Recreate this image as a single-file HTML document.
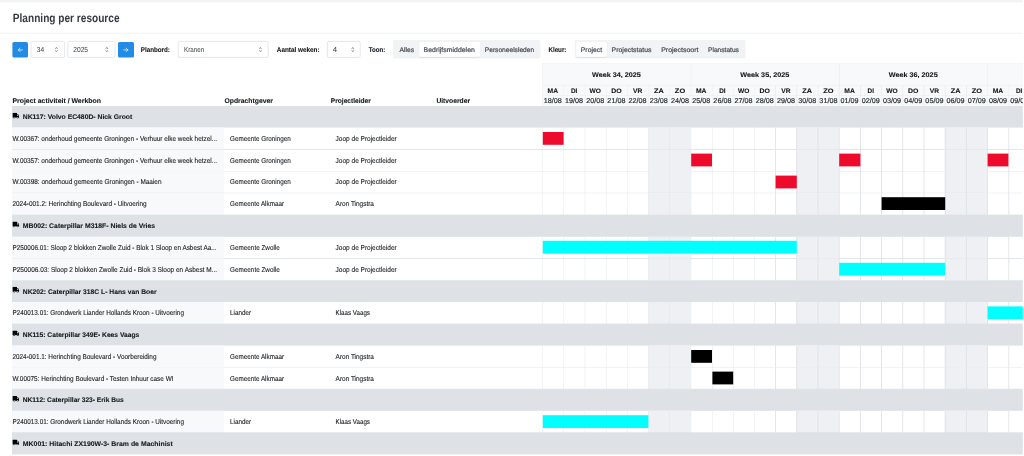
<!DOCTYPE html>
<html lang="nl">
<head>
<meta charset="utf-8">
<title>Planning per resource</title>
<style>
html,body{margin:0;padding:0;background:#fff;overflow:hidden;text-rendering:geometricPrecision;}
body{width:1024px;height:456px;position:relative;font-family:"Liberation Sans",sans-serif;}
#page{position:absolute;left:0;top:0;width:2557.0px;height:1140.0px;transform:scale(0.4);transform-origin:0 0;overflow:hidden;}
#page div{position:absolute;}
#page svg{display:block;}
.t{position:absolute;margin:0;padding:0;white-space:nowrap;display:block;}
.pill{box-shadow:0 1px 2.5px rgba(0,0,0,.07);}
</style>
</head>
<body>
<div id="page">
<div style="left:0.00px;top:0.00px;width:2560.00px;height:5.50px;background:#f2f4f6;"></div>
<h1 id="t1" class="t" style="left:32.00px;top:27.11px;font-size:30.00px;line-height:36.00px;font-weight:700;color:#343a40;transform:scaleX(0.8423);transform-origin:left;">Planning per resource</h1>
<div style="left:0.00px;top:82.25px;width:2560.00px;height:1.25px;background:#eceef1;"></div>
<div class="btn" style="left:30.75px;top:104.75px;width:39.50px;height:39.50px;background:#228be6;border-radius:4.00px;"><svg viewBox="0 0 16 16" width="100%" height="100%"><path d="M10.2 8H6M7.8 6.2 6 8l1.8 1.8" fill="none" stroke="#fff" stroke-width="0.7" stroke-linecap="round" stroke-linejoin="round"/></svg></div>
<div class="inp" style="left:77.00px;top:103.00px;width:84.50px;height:41.25px;background:#fff;border:1.38px solid #c0c7cf;border-radius:4.00px;box-sizing:border-box;"></div>
<span id="t2" class="t" style="left:91.75px;top:112.85px;font-size:18.25px;line-height:21.90px;font-weight:400;color:#3b4147;transform:scaleX(0.9000);transform-origin:left;">34</span>
<div style="left:133.25px;top:113.50px;width:16.00px;height:20.00px;"><svg viewBox="0 0 8 10" width="100%" height="100%"><path d="M2.9 3.8 4 2.2 5.1 3.8M2.9 6.2 4 7.8 5.1 6.2" fill="none" stroke="#5f666d" stroke-width="0.8" stroke-linecap="round" stroke-linejoin="round"/></svg></div>
<div class="inp" style="left:168.50px;top:103.00px;width:119.75px;height:41.25px;background:#fff;border:1.38px solid #c0c7cf;border-radius:4.00px;box-sizing:border-box;"></div>
<span id="t3" class="t" style="left:182.50px;top:112.85px;font-size:18.25px;line-height:21.90px;font-weight:400;color:#3b4147;transform:scaleX(0.9146);transform-origin:left;">2025</span>
<div style="left:259.00px;top:113.50px;width:16.00px;height:20.00px;"><svg viewBox="0 0 8 10" width="100%" height="100%"><path d="M2.9 3.8 4 2.2 5.1 3.8M2.9 6.2 4 7.8 5.1 6.2" fill="none" stroke="#5f666d" stroke-width="0.8" stroke-linecap="round" stroke-linejoin="round"/></svg></div>
<div class="btn" style="left:295.00px;top:104.75px;width:39.50px;height:39.50px;background:#228be6;border-radius:4.00px;"><svg viewBox="0 0 16 16" width="100%" height="100%"><path d="M5.8 8H10M8.2 6.2 10 8 8.2 9.8" fill="none" stroke="#fff" stroke-width="0.7" stroke-linecap="round" stroke-linejoin="round"/></svg></div>
<label id="t4" class="t" style="left:352.00px;top:115.17px;font-size:17.25px;line-height:20.70px;font-weight:700;color:#15181b;transform:scaleX(0.9043);transform-origin:left;-webkit-text-stroke:0.25px #15181b;">Planbord:</label>
<div class="inp" style="left:445.25px;top:103.00px;width:225.25px;height:41.25px;background:#fff;border:1.38px solid #c0c7cf;border-radius:4.00px;box-sizing:border-box;"></div>
<span id="t5" class="t" style="left:459.75px;top:112.85px;font-size:18.25px;line-height:21.90px;font-weight:400;color:#3b4147;transform:scaleX(0.8559);transform-origin:left;">Kranen</span>
<div style="left:643.00px;top:113.50px;width:16.00px;height:20.00px;"><svg viewBox="0 0 8 10" width="100%" height="100%"><path d="M2.9 3.8 4 2.2 5.1 3.8M2.9 6.2 4 7.8 5.1 6.2" fill="none" stroke="#5f666d" stroke-width="0.8" stroke-linecap="round" stroke-linejoin="round"/></svg></div>
<label id="t6" class="t" style="left:691.50px;top:115.17px;font-size:17.25px;line-height:20.70px;font-weight:700;color:#15181b;transform:scaleX(0.9224);transform-origin:left;-webkit-text-stroke:0.25px #15181b;">Aantal weken:</label>
<div class="inp" style="left:818.12px;top:103.00px;width:83.00px;height:41.25px;background:#fff;border:1.38px solid #c0c7cf;border-radius:4.00px;box-sizing:border-box;"></div>
<span id="t7" class="t" style="left:832.25px;top:112.85px;font-size:18.25px;line-height:21.90px;font-weight:400;color:#3b4147;transform:scaleX(1.0750);transform-origin:left;">4</span>
<div style="left:873.50px;top:113.50px;width:16.00px;height:20.00px;"><svg viewBox="0 0 8 10" width="100%" height="100%"><path d="M2.9 3.8 4 2.2 5.1 3.8M2.9 6.2 4 7.8 5.1 6.2" fill="none" stroke="#5f666d" stroke-width="0.8" stroke-linecap="round" stroke-linejoin="round"/></svg></div>
<label id="t8" class="t" style="left:922.00px;top:115.17px;font-size:17.25px;line-height:20.70px;font-weight:700;color:#15181b;transform:scaleX(0.8830);transform-origin:left;-webkit-text-stroke:0.25px #15181b;">Toon:</label>
<div class="seg" style="left:982.25px;top:100.25px;width:368.75px;height:46.00px;background:#f1f3f5;border-radius:4.00px;"></div>
<span id="t9" class="t" style="left:999.38px;top:115.63px;font-size:16.50px;line-height:19.80px;font-weight:400;color:#495057;transform:scaleX(1.0174);transform-origin:left;-webkit-text-stroke:0.55px #495057;">Alles</span>
<div class="pill" style="left:1047.50px;top:105.00px;width:152.50px;height:37.25px;background:#fff;border-radius:3.50px;"></div>
<span id="t10" class="t" style="left:1059.38px;top:115.63px;font-size:16.50px;line-height:19.80px;font-weight:400;color:#495057;transform:scaleX(1.0502);transform-origin:left;-webkit-text-stroke:0.55px #495057;">Bedrijfsmiddelen</span>
<span id="t11" class="t" style="left:1211.88px;top:115.63px;font-size:16.50px;line-height:19.80px;font-weight:400;color:#495057;transform:scaleX(1.0030);transform-origin:left;-webkit-text-stroke:0.55px #495057;">Personeelsleden</span>
<label id="t12" class="t" style="left:1371.25px;top:115.17px;font-size:17.25px;line-height:20.70px;font-weight:700;color:#15181b;transform:scaleX(0.9050);transform-origin:left;-webkit-text-stroke:0.25px #15181b;">Kleur:</label>
<div class="seg" style="left:1437.25px;top:100.25px;width:426.75px;height:46.00px;background:#f1f3f5;border-radius:4.00px;"></div>
<div class="pill" style="left:1440.25px;top:105.00px;width:76.62px;height:37.25px;background:#fff;border-radius:3.50px;"></div>
<span id="t13" class="t" style="left:1452.25px;top:115.63px;font-size:16.50px;line-height:19.80px;font-weight:400;color:#495057;transform:scaleX(1.0392);transform-origin:left;-webkit-text-stroke:0.55px #495057;">Project</span>
<span id="t14" class="t" style="left:1529.38px;top:115.63px;font-size:16.50px;line-height:19.80px;font-weight:400;color:#495057;transform:scaleX(1.0461);transform-origin:left;-webkit-text-stroke:0.55px #495057;">Projectstatus</span>
<span id="t15" class="t" style="left:1653.00px;top:115.63px;font-size:16.50px;line-height:19.80px;font-weight:400;color:#495057;transform:scaleX(1.0568);transform-origin:left;-webkit-text-stroke:0.55px #495057;">Projectsoort</span>
<span id="t16" class="t" style="left:1770.25px;top:115.63px;font-size:16.50px;line-height:19.80px;font-weight:400;color:#495057;transform:scaleX(1.0032);transform-origin:left;-webkit-text-stroke:0.55px #495057;">Planstatus</span>
<div style="left:1355.75px;top:158.75px;width:1204.25px;height:106.25px;background:#f8f9fa;"></div>
<div style="left:1355.75px;top:158.75px;width:1.25px;height:53.75px;background:#e9ecef;"></div>
<span id="t17" class="t" style="left:1541.16px;top:177.15px;font-size:16.75px;line-height:20.10px;font-weight:700;color:#15181b;transform:translateX(-50%) scaleX(1.0796);transform-origin:center;-webkit-text-stroke:0.25px #15181b;">Week 34, 2025</span>
<div style="left:1726.58px;top:158.75px;width:1.25px;height:53.75px;background:#e9ecef;"></div>
<span id="t18" class="t" style="left:1911.99px;top:177.15px;font-size:16.75px;line-height:20.10px;font-weight:700;color:#15181b;transform:translateX(-50%) scaleX(1.0796);transform-origin:center;-webkit-text-stroke:0.25px #15181b;">Week 35, 2025</span>
<div style="left:2097.40px;top:158.75px;width:1.25px;height:53.75px;background:#e9ecef;"></div>
<span id="t19" class="t" style="left:2282.81px;top:177.15px;font-size:16.75px;line-height:20.10px;font-weight:700;color:#15181b;transform:translateX(-50%) scaleX(1.0796);transform-origin:center;-webkit-text-stroke:0.25px #15181b;">Week 36, 2025</span>
<div style="left:2468.22px;top:158.75px;width:1.25px;height:53.75px;background:#e9ecef;"></div>
<span id="t20" class="t" style="left:2653.64px;top:177.15px;font-size:16.75px;line-height:20.10px;font-weight:700;color:#15181b;transform:translateX(-50%) scaleX(1.0796);transform-origin:center;-webkit-text-stroke:0.25px #15181b;">Week 37, 2025</span>
<div style="left:1355.75px;top:158.75px;width:1204.25px;height:1.25px;background:#e9ecef;"></div>
<div style="left:1355.75px;top:212.50px;width:1204.25px;height:1.25px;background:#e9ecef;"></div>
<div style="left:1355.75px;top:238.12px;width:1204.25px;height:1.25px;background:#e9ecef;"></div>
<div style="left:1355.75px;top:212.50px;width:1.25px;height:52.50px;background:#e9ecef;"></div>
<span id="t21" class="t" style="left:1382.24px;top:217.61px;font-size:16.00px;line-height:19.20px;font-weight:700;color:#15181b;transform:translateX(-50%) scaleX(1.0600);transform-origin:center;-webkit-text-stroke:0.25px #15181b;">MA</span>
<span id="t22" class="t" style="left:1382.24px;top:241.95px;font-size:17.75px;line-height:21.30px;font-weight:400;color:#212529;transform:translateX(-50%) scaleX(1.0170);transform-origin:center;-webkit-text-stroke:0.35px #212529;">18/08</span>
<div style="left:1408.72px;top:212.50px;width:1.25px;height:52.50px;background:#e9ecef;"></div>
<span id="t23" class="t" style="left:1435.21px;top:217.61px;font-size:16.00px;line-height:19.20px;font-weight:700;color:#15181b;transform:translateX(-50%) scaleX(1.0000);transform-origin:center;-webkit-text-stroke:0.25px #15181b;">DI</span>
<span id="t24" class="t" style="left:1435.21px;top:241.95px;font-size:17.75px;line-height:21.30px;font-weight:400;color:#212529;transform:translateX(-50%) scaleX(1.0170);transform-origin:center;-webkit-text-stroke:0.35px #212529;">19/08</span>
<div style="left:1461.70px;top:212.50px;width:1.25px;height:52.50px;background:#e9ecef;"></div>
<span id="t25" class="t" style="left:1488.19px;top:217.61px;font-size:16.00px;line-height:19.20px;font-weight:700;color:#15181b;transform:translateX(-50%) scaleX(1.0357);transform-origin:center;-webkit-text-stroke:0.25px #15181b;">WO</span>
<span id="t26" class="t" style="left:1488.19px;top:241.95px;font-size:17.75px;line-height:21.30px;font-weight:400;color:#212529;transform:translateX(-50%) scaleX(1.0170);transform-origin:center;-webkit-text-stroke:0.35px #212529;">20/08</span>
<div style="left:1514.67px;top:212.50px;width:1.25px;height:52.50px;background:#e9ecef;"></div>
<span id="t27" class="t" style="left:1541.16px;top:217.61px;font-size:16.00px;line-height:19.20px;font-weight:700;color:#15181b;transform:translateX(-50%) scaleX(1.0833);transform-origin:center;-webkit-text-stroke:0.25px #15181b;">DO</span>
<span id="t28" class="t" style="left:1541.16px;top:241.95px;font-size:17.75px;line-height:21.30px;font-weight:400;color:#212529;transform:translateX(-50%) scaleX(1.0170);transform-origin:center;-webkit-text-stroke:0.35px #212529;">21/08</span>
<div style="left:1567.65px;top:212.50px;width:1.25px;height:52.50px;background:#e9ecef;"></div>
<span id="t29" class="t" style="left:1594.14px;top:217.61px;font-size:16.00px;line-height:19.20px;font-weight:700;color:#15181b;transform:translateX(-50%) scaleX(1.0455);transform-origin:center;-webkit-text-stroke:0.25px #15181b;">VR</span>
<span id="t30" class="t" style="left:1594.14px;top:241.95px;font-size:17.75px;line-height:21.30px;font-weight:400;color:#212529;transform:translateX(-50%) scaleX(1.0170);transform-origin:center;-webkit-text-stroke:0.35px #212529;">22/08</span>
<div style="left:1620.62px;top:212.50px;width:1.25px;height:52.50px;background:#e9ecef;"></div>
<span id="t31" class="t" style="left:1647.11px;top:217.61px;font-size:16.00px;line-height:19.20px;font-weight:700;color:#15181b;transform:translateX(-50%) scaleX(1.1429);transform-origin:center;-webkit-text-stroke:0.25px #15181b;">ZA</span>
<span id="t32" class="t" style="left:1647.11px;top:241.95px;font-size:17.75px;line-height:21.30px;font-weight:400;color:#212529;transform:translateX(-50%) scaleX(1.0170);transform-origin:center;-webkit-text-stroke:0.35px #212529;">23/08</span>
<div style="left:1673.60px;top:212.50px;width:1.25px;height:52.50px;background:#e9ecef;"></div>
<span id="t33" class="t" style="left:1700.09px;top:217.61px;font-size:16.00px;line-height:19.20px;font-weight:700;color:#15181b;transform:translateX(-50%) scaleX(1.1591);transform-origin:center;-webkit-text-stroke:0.25px #15181b;">ZO</span>
<span id="t34" class="t" style="left:1700.09px;top:241.95px;font-size:17.75px;line-height:21.30px;font-weight:400;color:#212529;transform:translateX(-50%) scaleX(1.0170);transform-origin:center;-webkit-text-stroke:0.35px #212529;">24/08</span>
<div style="left:1726.58px;top:212.50px;width:1.25px;height:52.50px;background:#e9ecef;"></div>
<span id="t35" class="t" style="left:1753.06px;top:217.61px;font-size:16.00px;line-height:19.20px;font-weight:700;color:#15181b;transform:translateX(-50%) scaleX(1.0600);transform-origin:center;-webkit-text-stroke:0.25px #15181b;">MA</span>
<span id="t36" class="t" style="left:1753.06px;top:241.95px;font-size:17.75px;line-height:21.30px;font-weight:400;color:#212529;transform:translateX(-50%) scaleX(1.0170);transform-origin:center;-webkit-text-stroke:0.35px #212529;">25/08</span>
<div style="left:1779.55px;top:212.50px;width:1.25px;height:52.50px;background:#e9ecef;"></div>
<span id="t37" class="t" style="left:1806.04px;top:217.61px;font-size:16.00px;line-height:19.20px;font-weight:700;color:#15181b;transform:translateX(-50%) scaleX(1.0000);transform-origin:center;-webkit-text-stroke:0.25px #15181b;">DI</span>
<span id="t38" class="t" style="left:1806.04px;top:241.95px;font-size:17.75px;line-height:21.30px;font-weight:400;color:#212529;transform:translateX(-50%) scaleX(1.0170);transform-origin:center;-webkit-text-stroke:0.35px #212529;">26/08</span>
<div style="left:1832.53px;top:212.50px;width:1.25px;height:52.50px;background:#e9ecef;"></div>
<span id="t39" class="t" style="left:1859.01px;top:217.61px;font-size:16.00px;line-height:19.20px;font-weight:700;color:#15181b;transform:translateX(-50%) scaleX(1.0357);transform-origin:center;-webkit-text-stroke:0.25px #15181b;">WO</span>
<span id="t40" class="t" style="left:1859.01px;top:241.95px;font-size:17.75px;line-height:21.30px;font-weight:400;color:#212529;transform:translateX(-50%) scaleX(1.0170);transform-origin:center;-webkit-text-stroke:0.35px #212529;">27/08</span>
<div style="left:1885.50px;top:212.50px;width:1.25px;height:52.50px;background:#e9ecef;"></div>
<span id="t41" class="t" style="left:1911.99px;top:217.61px;font-size:16.00px;line-height:19.20px;font-weight:700;color:#15181b;transform:translateX(-50%) scaleX(1.0833);transform-origin:center;-webkit-text-stroke:0.25px #15181b;">DO</span>
<span id="t42" class="t" style="left:1911.99px;top:241.95px;font-size:17.75px;line-height:21.30px;font-weight:400;color:#212529;transform:translateX(-50%) scaleX(1.0170);transform-origin:center;-webkit-text-stroke:0.35px #212529;">28/08</span>
<div style="left:1938.47px;top:212.50px;width:1.25px;height:52.50px;background:#e9ecef;"></div>
<span id="t43" class="t" style="left:1964.96px;top:217.61px;font-size:16.00px;line-height:19.20px;font-weight:700;color:#15181b;transform:translateX(-50%) scaleX(1.0455);transform-origin:center;-webkit-text-stroke:0.25px #15181b;">VR</span>
<span id="t44" class="t" style="left:1964.96px;top:241.95px;font-size:17.75px;line-height:21.30px;font-weight:400;color:#212529;transform:translateX(-50%) scaleX(1.0170);transform-origin:center;-webkit-text-stroke:0.35px #212529;">29/08</span>
<div style="left:1991.45px;top:212.50px;width:1.25px;height:52.50px;background:#e9ecef;"></div>
<span id="t45" class="t" style="left:2017.94px;top:217.61px;font-size:16.00px;line-height:19.20px;font-weight:700;color:#15181b;transform:translateX(-50%) scaleX(1.1429);transform-origin:center;-webkit-text-stroke:0.25px #15181b;">ZA</span>
<span id="t46" class="t" style="left:2017.94px;top:241.95px;font-size:17.75px;line-height:21.30px;font-weight:400;color:#212529;transform:translateX(-50%) scaleX(1.0170);transform-origin:center;-webkit-text-stroke:0.35px #212529;">30/08</span>
<div style="left:2044.42px;top:212.50px;width:1.25px;height:52.50px;background:#e9ecef;"></div>
<span id="t47" class="t" style="left:2070.91px;top:217.61px;font-size:16.00px;line-height:19.20px;font-weight:700;color:#15181b;transform:translateX(-50%) scaleX(1.1591);transform-origin:center;-webkit-text-stroke:0.25px #15181b;">ZO</span>
<span id="t48" class="t" style="left:2070.91px;top:241.95px;font-size:17.75px;line-height:21.30px;font-weight:400;color:#212529;transform:translateX(-50%) scaleX(1.0170);transform-origin:center;-webkit-text-stroke:0.35px #212529;">31/08</span>
<div style="left:2097.40px;top:212.50px;width:1.25px;height:52.50px;background:#e9ecef;"></div>
<span id="t49" class="t" style="left:2123.89px;top:217.61px;font-size:16.00px;line-height:19.20px;font-weight:700;color:#15181b;transform:translateX(-50%) scaleX(1.0600);transform-origin:center;-webkit-text-stroke:0.25px #15181b;">MA</span>
<span id="t50" class="t" style="left:2123.89px;top:241.95px;font-size:17.75px;line-height:21.30px;font-weight:400;color:#212529;transform:translateX(-50%) scaleX(1.0170);transform-origin:center;-webkit-text-stroke:0.35px #212529;">01/09</span>
<div style="left:2150.38px;top:212.50px;width:1.25px;height:52.50px;background:#e9ecef;"></div>
<span id="t51" class="t" style="left:2176.86px;top:217.61px;font-size:16.00px;line-height:19.20px;font-weight:700;color:#15181b;transform:translateX(-50%) scaleX(1.0000);transform-origin:center;-webkit-text-stroke:0.25px #15181b;">DI</span>
<span id="t52" class="t" style="left:2176.86px;top:241.95px;font-size:17.75px;line-height:21.30px;font-weight:400;color:#212529;transform:translateX(-50%) scaleX(1.0170);transform-origin:center;-webkit-text-stroke:0.35px #212529;">02/09</span>
<div style="left:2203.35px;top:212.50px;width:1.25px;height:52.50px;background:#e9ecef;"></div>
<span id="t53" class="t" style="left:2229.84px;top:217.61px;font-size:16.00px;line-height:19.20px;font-weight:700;color:#15181b;transform:translateX(-50%) scaleX(1.0357);transform-origin:center;-webkit-text-stroke:0.25px #15181b;">WO</span>
<span id="t54" class="t" style="left:2229.84px;top:241.95px;font-size:17.75px;line-height:21.30px;font-weight:400;color:#212529;transform:translateX(-50%) scaleX(1.0170);transform-origin:center;-webkit-text-stroke:0.35px #212529;">03/09</span>
<div style="left:2256.32px;top:212.50px;width:1.25px;height:52.50px;background:#e9ecef;"></div>
<span id="t55" class="t" style="left:2282.81px;top:217.61px;font-size:16.00px;line-height:19.20px;font-weight:700;color:#15181b;transform:translateX(-50%) scaleX(1.0833);transform-origin:center;-webkit-text-stroke:0.25px #15181b;">DO</span>
<span id="t56" class="t" style="left:2282.81px;top:241.95px;font-size:17.75px;line-height:21.30px;font-weight:400;color:#212529;transform:translateX(-50%) scaleX(1.0170);transform-origin:center;-webkit-text-stroke:0.35px #212529;">04/09</span>
<div style="left:2309.30px;top:212.50px;width:1.25px;height:52.50px;background:#e9ecef;"></div>
<span id="t57" class="t" style="left:2335.79px;top:217.61px;font-size:16.00px;line-height:19.20px;font-weight:700;color:#15181b;transform:translateX(-50%) scaleX(1.0455);transform-origin:center;-webkit-text-stroke:0.25px #15181b;">VR</span>
<span id="t58" class="t" style="left:2335.79px;top:241.95px;font-size:17.75px;line-height:21.30px;font-weight:400;color:#212529;transform:translateX(-50%) scaleX(1.0170);transform-origin:center;-webkit-text-stroke:0.35px #212529;">05/09</span>
<div style="left:2362.28px;top:212.50px;width:1.25px;height:52.50px;background:#e9ecef;"></div>
<span id="t59" class="t" style="left:2388.76px;top:217.61px;font-size:16.00px;line-height:19.20px;font-weight:700;color:#15181b;transform:translateX(-50%) scaleX(1.1429);transform-origin:center;-webkit-text-stroke:0.25px #15181b;">ZA</span>
<span id="t60" class="t" style="left:2388.76px;top:241.95px;font-size:17.75px;line-height:21.30px;font-weight:400;color:#212529;transform:translateX(-50%) scaleX(1.0170);transform-origin:center;-webkit-text-stroke:0.35px #212529;">06/09</span>
<div style="left:2415.25px;top:212.50px;width:1.25px;height:52.50px;background:#e9ecef;"></div>
<span id="t61" class="t" style="left:2441.74px;top:217.61px;font-size:16.00px;line-height:19.20px;font-weight:700;color:#15181b;transform:translateX(-50%) scaleX(1.1591);transform-origin:center;-webkit-text-stroke:0.25px #15181b;">ZO</span>
<span id="t62" class="t" style="left:2441.74px;top:241.95px;font-size:17.75px;line-height:21.30px;font-weight:400;color:#212529;transform:translateX(-50%) scaleX(1.0170);transform-origin:center;-webkit-text-stroke:0.35px #212529;">07/09</span>
<div style="left:2468.22px;top:212.50px;width:1.25px;height:52.50px;background:#e9ecef;"></div>
<span id="t63" class="t" style="left:2494.71px;top:217.61px;font-size:16.00px;line-height:19.20px;font-weight:700;color:#15181b;transform:translateX(-50%) scaleX(1.0600);transform-origin:center;-webkit-text-stroke:0.25px #15181b;">MA</span>
<span id="t64" class="t" style="left:2494.71px;top:241.95px;font-size:17.75px;line-height:21.30px;font-weight:400;color:#212529;transform:translateX(-50%) scaleX(1.0170);transform-origin:center;-webkit-text-stroke:0.35px #212529;">08/09</span>
<div style="left:2521.20px;top:212.50px;width:1.25px;height:52.50px;background:#e9ecef;"></div>
<span id="t65" class="t" style="left:2547.69px;top:217.61px;font-size:16.00px;line-height:19.20px;font-weight:700;color:#15181b;transform:translateX(-50%) scaleX(1.0000);transform-origin:center;-webkit-text-stroke:0.25px #15181b;">DI</span>
<span id="t66" class="t" style="left:2547.69px;top:241.95px;font-size:17.75px;line-height:21.30px;font-weight:400;color:#212529;transform:translateX(-50%) scaleX(1.0170);transform-origin:center;-webkit-text-stroke:0.35px #212529;">09/09</span>
<div style="left:2574.18px;top:212.50px;width:1.25px;height:52.50px;background:#e9ecef;"></div>
<span id="t67" class="t" style="left:2600.66px;top:217.61px;font-size:16.00px;line-height:19.20px;font-weight:700;color:#15181b;transform:translateX(-50%) scaleX(1.0357);transform-origin:center;-webkit-text-stroke:0.25px #15181b;">WO</span>
<span id="t68" class="t" style="left:2600.66px;top:241.95px;font-size:17.75px;line-height:21.30px;font-weight:400;color:#212529;transform:translateX(-50%) scaleX(1.0170);transform-origin:center;-webkit-text-stroke:0.35px #212529;">10/09</span>
<span id="t69" class="t" style="left:31.25px;top:242.91px;font-size:17.00px;line-height:20.40px;font-weight:700;color:#15181b;transform:scaleX(1.0149);transform-origin:left;-webkit-text-stroke:0.25px #15181b;">Project activiteit / Werkbon</span>
<span id="t70" class="t" style="left:561.25px;top:242.91px;font-size:17.00px;line-height:20.40px;font-weight:700;color:#15181b;transform:scaleX(1.0000);transform-origin:left;-webkit-text-stroke:0.25px #15181b;">Opdrachtgever</span>
<span id="t71" class="t" style="left:826.50px;top:242.91px;font-size:17.00px;line-height:20.40px;font-weight:700;color:#15181b;transform:scaleX(0.9709);transform-origin:left;-webkit-text-stroke:0.25px #15181b;">Projectleider</span>
<span id="t72" class="t" style="left:1091.25px;top:242.91px;font-size:17.00px;line-height:20.40px;font-weight:700;color:#15181b;transform:scaleX(0.9882);transform-origin:left;-webkit-text-stroke:0.25px #15181b;">Uitvoerder</span>
<div class="grp" style="left:30.00px;top:265.00px;width:2530.00px;height:54.46px;background:#dee2e6;"></div>
<div style="left:30.50px;top:281.75px;width:17.75px;height:14.25px;"><svg viewBox="0 0 640 512" width="100%" height="100%"><path fill="#000" d="M624 352h-16V243.9c0-12.7-5.1-24.9-14.100-33.900L494 110.100c-9-9-21.200-14.100-33.900-14.100H416V48c0-26.500-21.500-48-48-48H48C21.500 0 0 21.500 0 48v320c0 26.500 21.500 48 48 48h16c0 53 43 96 96 96s96-43 96-96h128c0 53 43 96 96 96s96-43 96-96h48c8.800 0 16-7.200 16-16v-32c0-8.800-7.200-16-16-16zM160 464c-26.500 0-48-21.500-48-48s21.500-48 48-48 48 21.500 48 48-21.500 48-48 48zm320 0c-26.500 0-48-21.500-48-48s21.500-48 48-48 48 21.500 48 48-21.500 48-48 48zm80-208H416V144h44.100l99.900 99.900V256z"/></svg></div>
<span id="t73" class="t" style="left:57.25px;top:282.90px;font-size:16.75px;line-height:20.10px;font-weight:700;color:#15181b;transform:scaleX(1.0148);transform-origin:left;-webkit-text-stroke:0.25px #15181b;">NK117: Volvo EC480D- Nick Groot</span>
<div style="left:30.00px;top:319.46px;width:530.00px;height:54.46px;background:#f8f9fa;"></div>
<div style="left:1620.62px;top:319.46px;width:105.95px;height:54.46px;background:#eef0f3;"></div>
<div style="left:1991.45px;top:319.46px;width:105.95px;height:54.46px;background:#eef0f3;"></div>
<div style="left:2362.28px;top:319.46px;width:105.95px;height:54.46px;background:#eef0f3;"></div>
<div style="left:1355.75px;top:319.46px;width:1.38px;height:54.46px;background:#dce0e5;"></div>
<div style="left:1408.72px;top:319.46px;width:1.38px;height:54.46px;background:#dce0e5;"></div>
<div style="left:1461.70px;top:319.46px;width:1.38px;height:54.46px;background:#dce0e5;"></div>
<div style="left:1514.67px;top:319.46px;width:1.38px;height:54.46px;background:#dce0e5;"></div>
<div style="left:1567.65px;top:319.46px;width:1.38px;height:54.46px;background:#dce0e5;"></div>
<div style="left:1620.62px;top:319.46px;width:1.38px;height:54.46px;background:#dce0e5;"></div>
<div style="left:1673.60px;top:319.46px;width:1.38px;height:54.46px;background:#dce0e5;"></div>
<div style="left:1726.58px;top:319.46px;width:1.38px;height:54.46px;background:#dce0e5;"></div>
<div style="left:1779.55px;top:319.46px;width:1.38px;height:54.46px;background:#dce0e5;"></div>
<div style="left:1832.53px;top:319.46px;width:1.38px;height:54.46px;background:#dce0e5;"></div>
<div style="left:1885.50px;top:319.46px;width:1.38px;height:54.46px;background:#dce0e5;"></div>
<div style="left:1938.47px;top:319.46px;width:1.38px;height:54.46px;background:#dce0e5;"></div>
<div style="left:1991.45px;top:319.46px;width:1.38px;height:54.46px;background:#dce0e5;"></div>
<div style="left:2044.42px;top:319.46px;width:1.38px;height:54.46px;background:#dce0e5;"></div>
<div style="left:2097.40px;top:319.46px;width:1.38px;height:54.46px;background:#dce0e5;"></div>
<div style="left:2150.38px;top:319.46px;width:1.38px;height:54.46px;background:#dce0e5;"></div>
<div style="left:2203.35px;top:319.46px;width:1.38px;height:54.46px;background:#dce0e5;"></div>
<div style="left:2256.32px;top:319.46px;width:1.38px;height:54.46px;background:#dce0e5;"></div>
<div style="left:2309.30px;top:319.46px;width:1.38px;height:54.46px;background:#dce0e5;"></div>
<div style="left:2362.28px;top:319.46px;width:1.38px;height:54.46px;background:#dce0e5;"></div>
<div style="left:2415.25px;top:319.46px;width:1.38px;height:54.46px;background:#dce0e5;"></div>
<div style="left:2468.22px;top:319.46px;width:1.38px;height:54.46px;background:#dce0e5;"></div>
<div style="left:2521.20px;top:319.46px;width:1.38px;height:54.46px;background:#dce0e5;"></div>
<div style="left:2574.18px;top:319.46px;width:1.38px;height:54.46px;background:#dce0e5;"></div>
<div style="left:30.00px;top:373.17px;width:2530.00px;height:1.38px;background:#dce0e5;"></div>
<span id="t74" class="t" style="left:31.25px;top:336.54px;font-size:17.75px;line-height:21.30px;font-weight:400;color:#212529;transform:scaleX(0.9049);transform-origin:left;-webkit-text-stroke:0.30px #212529;">W.00367: onderhoud gemeente Groningen - Verhuur elke week hetzel...</span>
<span id="t75" class="t" style="left:574.75px;top:336.54px;font-size:17.75px;line-height:21.30px;font-weight:400;color:#212529;transform:scaleX(0.8889);transform-origin:left;-webkit-text-stroke:0.30px #212529;">Gemeente Groningen</span>
<span id="t76" class="t" style="left:838.75px;top:336.54px;font-size:17.75px;line-height:21.30px;font-weight:400;color:#212529;transform:scaleX(0.9162);transform-origin:left;-webkit-text-stroke:0.30px #212529;">Joop de Projectleider</span>
<div style="left:1356.75px;top:329.96px;width:52.23px;height:32.00px;background:#ee0a2c;"></div>
<div style="left:30.00px;top:373.92px;width:530.00px;height:54.46px;background:#f8f9fa;"></div>
<div style="left:1620.62px;top:373.92px;width:105.95px;height:54.46px;background:#eef0f3;"></div>
<div style="left:1991.45px;top:373.92px;width:105.95px;height:54.46px;background:#eef0f3;"></div>
<div style="left:2362.28px;top:373.92px;width:105.95px;height:54.46px;background:#eef0f3;"></div>
<div style="left:1355.75px;top:373.92px;width:1.38px;height:54.46px;background:#dce0e5;"></div>
<div style="left:1408.72px;top:373.92px;width:1.38px;height:54.46px;background:#dce0e5;"></div>
<div style="left:1461.70px;top:373.92px;width:1.38px;height:54.46px;background:#dce0e5;"></div>
<div style="left:1514.67px;top:373.92px;width:1.38px;height:54.46px;background:#dce0e5;"></div>
<div style="left:1567.65px;top:373.92px;width:1.38px;height:54.46px;background:#dce0e5;"></div>
<div style="left:1620.62px;top:373.92px;width:1.38px;height:54.46px;background:#dce0e5;"></div>
<div style="left:1673.60px;top:373.92px;width:1.38px;height:54.46px;background:#dce0e5;"></div>
<div style="left:1726.58px;top:373.92px;width:1.38px;height:54.46px;background:#dce0e5;"></div>
<div style="left:1779.55px;top:373.92px;width:1.38px;height:54.46px;background:#dce0e5;"></div>
<div style="left:1832.53px;top:373.92px;width:1.38px;height:54.46px;background:#dce0e5;"></div>
<div style="left:1885.50px;top:373.92px;width:1.38px;height:54.46px;background:#dce0e5;"></div>
<div style="left:1938.47px;top:373.92px;width:1.38px;height:54.46px;background:#dce0e5;"></div>
<div style="left:1991.45px;top:373.92px;width:1.38px;height:54.46px;background:#dce0e5;"></div>
<div style="left:2044.42px;top:373.92px;width:1.38px;height:54.46px;background:#dce0e5;"></div>
<div style="left:2097.40px;top:373.92px;width:1.38px;height:54.46px;background:#dce0e5;"></div>
<div style="left:2150.38px;top:373.92px;width:1.38px;height:54.46px;background:#dce0e5;"></div>
<div style="left:2203.35px;top:373.92px;width:1.38px;height:54.46px;background:#dce0e5;"></div>
<div style="left:2256.32px;top:373.92px;width:1.38px;height:54.46px;background:#dce0e5;"></div>
<div style="left:2309.30px;top:373.92px;width:1.38px;height:54.46px;background:#dce0e5;"></div>
<div style="left:2362.28px;top:373.92px;width:1.38px;height:54.46px;background:#dce0e5;"></div>
<div style="left:2415.25px;top:373.92px;width:1.38px;height:54.46px;background:#dce0e5;"></div>
<div style="left:2468.22px;top:373.92px;width:1.38px;height:54.46px;background:#dce0e5;"></div>
<div style="left:2521.20px;top:373.92px;width:1.38px;height:54.46px;background:#dce0e5;"></div>
<div style="left:2574.18px;top:373.92px;width:1.38px;height:54.46px;background:#dce0e5;"></div>
<div style="left:30.00px;top:427.64px;width:2530.00px;height:1.38px;background:#dce0e5;"></div>
<span id="t77" class="t" style="left:31.25px;top:391.00px;font-size:17.75px;line-height:21.30px;font-weight:400;color:#212529;transform:scaleX(0.9049);transform-origin:left;-webkit-text-stroke:0.30px #212529;">W.00357: onderhoud gemeente Groningen - Verhuur elke week hetzel...</span>
<span id="t78" class="t" style="left:574.75px;top:391.00px;font-size:17.75px;line-height:21.30px;font-weight:400;color:#212529;transform:scaleX(0.8889);transform-origin:left;-webkit-text-stroke:0.30px #212529;">Gemeente Groningen</span>
<span id="t79" class="t" style="left:838.75px;top:391.00px;font-size:17.75px;line-height:21.30px;font-weight:400;color:#212529;transform:scaleX(0.9162);transform-origin:left;-webkit-text-stroke:0.30px #212529;">Joop de Projectleider</span>
<div style="left:1727.57px;top:384.42px;width:52.23px;height:32.00px;background:#ee0a2c;"></div>
<div style="left:2098.40px;top:384.42px;width:52.23px;height:32.00px;background:#ee0a2c;"></div>
<div style="left:2469.22px;top:384.42px;width:52.23px;height:32.00px;background:#ee0a2c;"></div>
<div style="left:30.00px;top:428.39px;width:530.00px;height:54.46px;background:#f8f9fa;"></div>
<div style="left:1620.62px;top:428.39px;width:105.95px;height:54.46px;background:#eef0f3;"></div>
<div style="left:1991.45px;top:428.39px;width:105.95px;height:54.46px;background:#eef0f3;"></div>
<div style="left:2362.28px;top:428.39px;width:105.95px;height:54.46px;background:#eef0f3;"></div>
<div style="left:1355.75px;top:428.39px;width:1.38px;height:54.46px;background:#dce0e5;"></div>
<div style="left:1408.72px;top:428.39px;width:1.38px;height:54.46px;background:#dce0e5;"></div>
<div style="left:1461.70px;top:428.39px;width:1.38px;height:54.46px;background:#dce0e5;"></div>
<div style="left:1514.67px;top:428.39px;width:1.38px;height:54.46px;background:#dce0e5;"></div>
<div style="left:1567.65px;top:428.39px;width:1.38px;height:54.46px;background:#dce0e5;"></div>
<div style="left:1620.62px;top:428.39px;width:1.38px;height:54.46px;background:#dce0e5;"></div>
<div style="left:1673.60px;top:428.39px;width:1.38px;height:54.46px;background:#dce0e5;"></div>
<div style="left:1726.58px;top:428.39px;width:1.38px;height:54.46px;background:#dce0e5;"></div>
<div style="left:1779.55px;top:428.39px;width:1.38px;height:54.46px;background:#dce0e5;"></div>
<div style="left:1832.53px;top:428.39px;width:1.38px;height:54.46px;background:#dce0e5;"></div>
<div style="left:1885.50px;top:428.39px;width:1.38px;height:54.46px;background:#dce0e5;"></div>
<div style="left:1938.47px;top:428.39px;width:1.38px;height:54.46px;background:#dce0e5;"></div>
<div style="left:1991.45px;top:428.39px;width:1.38px;height:54.46px;background:#dce0e5;"></div>
<div style="left:2044.42px;top:428.39px;width:1.38px;height:54.46px;background:#dce0e5;"></div>
<div style="left:2097.40px;top:428.39px;width:1.38px;height:54.46px;background:#dce0e5;"></div>
<div style="left:2150.38px;top:428.39px;width:1.38px;height:54.46px;background:#dce0e5;"></div>
<div style="left:2203.35px;top:428.39px;width:1.38px;height:54.46px;background:#dce0e5;"></div>
<div style="left:2256.32px;top:428.39px;width:1.38px;height:54.46px;background:#dce0e5;"></div>
<div style="left:2309.30px;top:428.39px;width:1.38px;height:54.46px;background:#dce0e5;"></div>
<div style="left:2362.28px;top:428.39px;width:1.38px;height:54.46px;background:#dce0e5;"></div>
<div style="left:2415.25px;top:428.39px;width:1.38px;height:54.46px;background:#dce0e5;"></div>
<div style="left:2468.22px;top:428.39px;width:1.38px;height:54.46px;background:#dce0e5;"></div>
<div style="left:2521.20px;top:428.39px;width:1.38px;height:54.46px;background:#dce0e5;"></div>
<div style="left:2574.18px;top:428.39px;width:1.38px;height:54.46px;background:#dce0e5;"></div>
<div style="left:30.00px;top:482.10px;width:2530.00px;height:1.38px;background:#dce0e5;"></div>
<span id="t80" class="t" style="left:31.25px;top:445.46px;font-size:17.75px;line-height:21.30px;font-weight:400;color:#212529;transform:scaleX(0.9082);transform-origin:left;-webkit-text-stroke:0.30px #212529;">W.00398: onderhoud gemeente Groningen - Maaien</span>
<span id="t81" class="t" style="left:574.75px;top:445.46px;font-size:17.75px;line-height:21.30px;font-weight:400;color:#212529;transform:scaleX(0.8889);transform-origin:left;-webkit-text-stroke:0.30px #212529;">Gemeente Groningen</span>
<span id="t82" class="t" style="left:838.75px;top:445.46px;font-size:17.75px;line-height:21.30px;font-weight:400;color:#212529;transform:scaleX(0.9162);transform-origin:left;-webkit-text-stroke:0.30px #212529;">Joop de Projectleider</span>
<div style="left:1939.47px;top:438.89px;width:52.23px;height:32.00px;background:#ee0a2c;"></div>
<div style="left:30.00px;top:482.85px;width:530.00px;height:54.46px;background:#f8f9fa;"></div>
<div style="left:1620.62px;top:482.85px;width:105.95px;height:54.46px;background:#eef0f3;"></div>
<div style="left:1991.45px;top:482.85px;width:105.95px;height:54.46px;background:#eef0f3;"></div>
<div style="left:2362.28px;top:482.85px;width:105.95px;height:54.46px;background:#eef0f3;"></div>
<div style="left:1355.75px;top:482.85px;width:1.38px;height:54.46px;background:#dce0e5;"></div>
<div style="left:1408.72px;top:482.85px;width:1.38px;height:54.46px;background:#dce0e5;"></div>
<div style="left:1461.70px;top:482.85px;width:1.38px;height:54.46px;background:#dce0e5;"></div>
<div style="left:1514.67px;top:482.85px;width:1.38px;height:54.46px;background:#dce0e5;"></div>
<div style="left:1567.65px;top:482.85px;width:1.38px;height:54.46px;background:#dce0e5;"></div>
<div style="left:1620.62px;top:482.85px;width:1.38px;height:54.46px;background:#dce0e5;"></div>
<div style="left:1673.60px;top:482.85px;width:1.38px;height:54.46px;background:#dce0e5;"></div>
<div style="left:1726.58px;top:482.85px;width:1.38px;height:54.46px;background:#dce0e5;"></div>
<div style="left:1779.55px;top:482.85px;width:1.38px;height:54.46px;background:#dce0e5;"></div>
<div style="left:1832.53px;top:482.85px;width:1.38px;height:54.46px;background:#dce0e5;"></div>
<div style="left:1885.50px;top:482.85px;width:1.38px;height:54.46px;background:#dce0e5;"></div>
<div style="left:1938.47px;top:482.85px;width:1.38px;height:54.46px;background:#dce0e5;"></div>
<div style="left:1991.45px;top:482.85px;width:1.38px;height:54.46px;background:#dce0e5;"></div>
<div style="left:2044.42px;top:482.85px;width:1.38px;height:54.46px;background:#dce0e5;"></div>
<div style="left:2097.40px;top:482.85px;width:1.38px;height:54.46px;background:#dce0e5;"></div>
<div style="left:2150.38px;top:482.85px;width:1.38px;height:54.46px;background:#dce0e5;"></div>
<div style="left:2203.35px;top:482.85px;width:1.38px;height:54.46px;background:#dce0e5;"></div>
<div style="left:2256.32px;top:482.85px;width:1.38px;height:54.46px;background:#dce0e5;"></div>
<div style="left:2309.30px;top:482.85px;width:1.38px;height:54.46px;background:#dce0e5;"></div>
<div style="left:2362.28px;top:482.85px;width:1.38px;height:54.46px;background:#dce0e5;"></div>
<div style="left:2415.25px;top:482.85px;width:1.38px;height:54.46px;background:#dce0e5;"></div>
<div style="left:2468.22px;top:482.85px;width:1.38px;height:54.46px;background:#dce0e5;"></div>
<div style="left:2521.20px;top:482.85px;width:1.38px;height:54.46px;background:#dce0e5;"></div>
<div style="left:2574.18px;top:482.85px;width:1.38px;height:54.46px;background:#dce0e5;"></div>
<div style="left:30.00px;top:536.56px;width:2530.00px;height:1.38px;background:#dce0e5;"></div>
<span id="t83" class="t" style="left:31.25px;top:499.92px;font-size:17.75px;line-height:21.30px;font-weight:400;color:#212529;transform:scaleX(0.9074);transform-origin:left;-webkit-text-stroke:0.30px #212529;">2024-001.2: Herinchting Boulevard - Uitvoering</span>
<span id="t84" class="t" style="left:574.75px;top:499.92px;font-size:17.75px;line-height:21.30px;font-weight:400;color:#212529;transform:scaleX(0.8898);transform-origin:left;-webkit-text-stroke:0.30px #212529;">Gemeente Alkmaar</span>
<span id="t85" class="t" style="left:838.75px;top:499.92px;font-size:17.75px;line-height:21.30px;font-weight:400;color:#212529;transform:scaleX(0.9080);transform-origin:left;-webkit-text-stroke:0.30px #212529;">Aron Tingstra</span>
<div style="left:2204.35px;top:493.35px;width:158.18px;height:32.00px;background:#000000;"></div>
<div class="grp" style="left:30.00px;top:537.31px;width:2530.00px;height:54.46px;background:#dee2e6;"></div>
<div style="left:30.50px;top:554.06px;width:17.75px;height:14.25px;"><svg viewBox="0 0 640 512" width="100%" height="100%"><path fill="#000" d="M624 352h-16V243.9c0-12.7-5.1-24.9-14.100-33.900L494 110.100c-9-9-21.200-14.100-33.900-14.100H416V48c0-26.500-21.500-48-48-48H48C21.500 0 0 21.500 0 48v320c0 26.500 21.500 48 48 48h16c0 53 43 96 96 96s96-43 96-96h128c0 53 43 96 96 96s96-43 96-96h48c8.800 0 16-7.200 16-16v-32c0-8.800-7.200-16-16-16zM160 464c-26.500 0-48-21.500-48-48s21.500-48 48-48 48 21.500 48 48-21.500 48-48 48zm320 0c-26.500 0-48-21.500-48-48s21.500-48 48-48 48 21.500 48 48-21.500 48-48 48zm80-208H416V144h44.100l99.900 99.900V256z"/></svg></div>
<span id="t86" class="t" style="left:57.25px;top:555.21px;font-size:16.75px;line-height:20.10px;font-weight:700;color:#15181b;transform:scaleX(1.0240);transform-origin:left;-webkit-text-stroke:0.25px #15181b;">MB002: Caterpillar M318F- Niels de Vries</span>
<div style="left:30.00px;top:591.77px;width:530.00px;height:54.46px;background:#f8f9fa;"></div>
<div style="left:1620.62px;top:591.77px;width:105.95px;height:54.46px;background:#eef0f3;"></div>
<div style="left:1991.45px;top:591.77px;width:105.95px;height:54.46px;background:#eef0f3;"></div>
<div style="left:2362.28px;top:591.77px;width:105.95px;height:54.46px;background:#eef0f3;"></div>
<div style="left:1355.75px;top:591.77px;width:1.38px;height:54.46px;background:#dce0e5;"></div>
<div style="left:1408.72px;top:591.77px;width:1.38px;height:54.46px;background:#dce0e5;"></div>
<div style="left:1461.70px;top:591.77px;width:1.38px;height:54.46px;background:#dce0e5;"></div>
<div style="left:1514.67px;top:591.77px;width:1.38px;height:54.46px;background:#dce0e5;"></div>
<div style="left:1567.65px;top:591.77px;width:1.38px;height:54.46px;background:#dce0e5;"></div>
<div style="left:1620.62px;top:591.77px;width:1.38px;height:54.46px;background:#dce0e5;"></div>
<div style="left:1673.60px;top:591.77px;width:1.38px;height:54.46px;background:#dce0e5;"></div>
<div style="left:1726.58px;top:591.77px;width:1.38px;height:54.46px;background:#dce0e5;"></div>
<div style="left:1779.55px;top:591.77px;width:1.38px;height:54.46px;background:#dce0e5;"></div>
<div style="left:1832.53px;top:591.77px;width:1.38px;height:54.46px;background:#dce0e5;"></div>
<div style="left:1885.50px;top:591.77px;width:1.38px;height:54.46px;background:#dce0e5;"></div>
<div style="left:1938.47px;top:591.77px;width:1.38px;height:54.46px;background:#dce0e5;"></div>
<div style="left:1991.45px;top:591.77px;width:1.38px;height:54.46px;background:#dce0e5;"></div>
<div style="left:2044.42px;top:591.77px;width:1.38px;height:54.46px;background:#dce0e5;"></div>
<div style="left:2097.40px;top:591.77px;width:1.38px;height:54.46px;background:#dce0e5;"></div>
<div style="left:2150.38px;top:591.77px;width:1.38px;height:54.46px;background:#dce0e5;"></div>
<div style="left:2203.35px;top:591.77px;width:1.38px;height:54.46px;background:#dce0e5;"></div>
<div style="left:2256.32px;top:591.77px;width:1.38px;height:54.46px;background:#dce0e5;"></div>
<div style="left:2309.30px;top:591.77px;width:1.38px;height:54.46px;background:#dce0e5;"></div>
<div style="left:2362.28px;top:591.77px;width:1.38px;height:54.46px;background:#dce0e5;"></div>
<div style="left:2415.25px;top:591.77px;width:1.38px;height:54.46px;background:#dce0e5;"></div>
<div style="left:2468.22px;top:591.77px;width:1.38px;height:54.46px;background:#dce0e5;"></div>
<div style="left:2521.20px;top:591.77px;width:1.38px;height:54.46px;background:#dce0e5;"></div>
<div style="left:2574.18px;top:591.77px;width:1.38px;height:54.46px;background:#dce0e5;"></div>
<div style="left:30.00px;top:645.49px;width:2530.00px;height:1.38px;background:#dce0e5;"></div>
<span id="t87" class="t" style="left:31.25px;top:608.85px;font-size:17.75px;line-height:21.30px;font-weight:400;color:#212529;transform:scaleX(0.9011);transform-origin:left;-webkit-text-stroke:0.30px #212529;">P250006.01: Sloop 2 blokken Zwolle Zuid - Blok 1 Sloop en Asbest Aa...</span>
<span id="t88" class="t" style="left:574.75px;top:608.85px;font-size:17.75px;line-height:21.30px;font-weight:400;color:#212529;transform:scaleX(0.8957);transform-origin:left;-webkit-text-stroke:0.30px #212529;">Gemeente Zwolle</span>
<span id="t89" class="t" style="left:838.75px;top:608.85px;font-size:17.75px;line-height:21.30px;font-weight:400;color:#212529;transform:scaleX(0.9162);transform-origin:left;-webkit-text-stroke:0.30px #212529;">Joop de Projectleider</span>
<div style="left:1356.75px;top:602.27px;width:634.95px;height:32.00px;background:#00ffff;"></div>
<div style="left:30.00px;top:646.24px;width:530.00px;height:54.46px;background:#f8f9fa;"></div>
<div style="left:1620.62px;top:646.24px;width:105.95px;height:54.46px;background:#eef0f3;"></div>
<div style="left:1991.45px;top:646.24px;width:105.95px;height:54.46px;background:#eef0f3;"></div>
<div style="left:2362.28px;top:646.24px;width:105.95px;height:54.46px;background:#eef0f3;"></div>
<div style="left:1355.75px;top:646.24px;width:1.38px;height:54.46px;background:#dce0e5;"></div>
<div style="left:1408.72px;top:646.24px;width:1.38px;height:54.46px;background:#dce0e5;"></div>
<div style="left:1461.70px;top:646.24px;width:1.38px;height:54.46px;background:#dce0e5;"></div>
<div style="left:1514.67px;top:646.24px;width:1.38px;height:54.46px;background:#dce0e5;"></div>
<div style="left:1567.65px;top:646.24px;width:1.38px;height:54.46px;background:#dce0e5;"></div>
<div style="left:1620.62px;top:646.24px;width:1.38px;height:54.46px;background:#dce0e5;"></div>
<div style="left:1673.60px;top:646.24px;width:1.38px;height:54.46px;background:#dce0e5;"></div>
<div style="left:1726.58px;top:646.24px;width:1.38px;height:54.46px;background:#dce0e5;"></div>
<div style="left:1779.55px;top:646.24px;width:1.38px;height:54.46px;background:#dce0e5;"></div>
<div style="left:1832.53px;top:646.24px;width:1.38px;height:54.46px;background:#dce0e5;"></div>
<div style="left:1885.50px;top:646.24px;width:1.38px;height:54.46px;background:#dce0e5;"></div>
<div style="left:1938.47px;top:646.24px;width:1.38px;height:54.46px;background:#dce0e5;"></div>
<div style="left:1991.45px;top:646.24px;width:1.38px;height:54.46px;background:#dce0e5;"></div>
<div style="left:2044.42px;top:646.24px;width:1.38px;height:54.46px;background:#dce0e5;"></div>
<div style="left:2097.40px;top:646.24px;width:1.38px;height:54.46px;background:#dce0e5;"></div>
<div style="left:2150.38px;top:646.24px;width:1.38px;height:54.46px;background:#dce0e5;"></div>
<div style="left:2203.35px;top:646.24px;width:1.38px;height:54.46px;background:#dce0e5;"></div>
<div style="left:2256.32px;top:646.24px;width:1.38px;height:54.46px;background:#dce0e5;"></div>
<div style="left:2309.30px;top:646.24px;width:1.38px;height:54.46px;background:#dce0e5;"></div>
<div style="left:2362.28px;top:646.24px;width:1.38px;height:54.46px;background:#dce0e5;"></div>
<div style="left:2415.25px;top:646.24px;width:1.38px;height:54.46px;background:#dce0e5;"></div>
<div style="left:2468.22px;top:646.24px;width:1.38px;height:54.46px;background:#dce0e5;"></div>
<div style="left:2521.20px;top:646.24px;width:1.38px;height:54.46px;background:#dce0e5;"></div>
<div style="left:2574.18px;top:646.24px;width:1.38px;height:54.46px;background:#dce0e5;"></div>
<div style="left:30.00px;top:699.95px;width:2530.00px;height:1.38px;background:#dce0e5;"></div>
<span id="t90" class="t" style="left:31.25px;top:663.31px;font-size:17.75px;line-height:21.30px;font-weight:400;color:#212529;transform:scaleX(0.9129);transform-origin:left;-webkit-text-stroke:0.30px #212529;">P250006.03: Sloop 2 blokken Zwolle Zuid - Blok 3 Sloop en Asbest M...</span>
<span id="t91" class="t" style="left:574.75px;top:663.31px;font-size:17.75px;line-height:21.30px;font-weight:400;color:#212529;transform:scaleX(0.8957);transform-origin:left;-webkit-text-stroke:0.30px #212529;">Gemeente Zwolle</span>
<span id="t92" class="t" style="left:838.75px;top:663.31px;font-size:17.75px;line-height:21.30px;font-weight:400;color:#212529;transform:scaleX(0.9162);transform-origin:left;-webkit-text-stroke:0.30px #212529;">Joop de Projectleider</span>
<div style="left:2098.40px;top:656.74px;width:264.12px;height:32.00px;background:#00ffff;"></div>
<div class="grp" style="left:30.00px;top:700.70px;width:2530.00px;height:54.46px;background:#dee2e6;"></div>
<div style="left:30.50px;top:717.45px;width:17.75px;height:14.25px;"><svg viewBox="0 0 640 512" width="100%" height="100%"><path fill="#000" d="M624 352h-16V243.9c0-12.7-5.1-24.9-14.100-33.900L494 110.100c-9-9-21.200-14.100-33.900-14.100H416V48c0-26.500-21.500-48-48-48H48C21.500 0 0 21.500 0 48v320c0 26.500 21.500 48 48 48h16c0 53 43 96 96 96s96-43 96-96h128c0 53 43 96 96 96s96-43 96-96h48c8.800 0 16-7.200 16-16v-32c0-8.800-7.200-16-16-16zM160 464c-26.500 0-48-21.500-48-48s21.500-48 48-48 48 21.500 48 48-21.500 48-48 48zm320 0c-26.500 0-48-21.500-48-48s21.500-48 48-48 48 21.500 48 48-21.500 48-48 48zm80-208H416V144h44.100l99.900 99.900V256z"/></svg></div>
<span id="t93" class="t" style="left:57.25px;top:718.60px;font-size:16.75px;line-height:20.10px;font-weight:700;color:#15181b;transform:scaleX(1.0060);transform-origin:left;-webkit-text-stroke:0.25px #15181b;">NK202: Caterpillar 318C L- Hans van Boer</span>
<div style="left:30.00px;top:755.16px;width:530.00px;height:54.46px;background:#f8f9fa;"></div>
<div style="left:1620.62px;top:755.16px;width:105.95px;height:54.46px;background:#eef0f3;"></div>
<div style="left:1991.45px;top:755.16px;width:105.95px;height:54.46px;background:#eef0f3;"></div>
<div style="left:2362.28px;top:755.16px;width:105.95px;height:54.46px;background:#eef0f3;"></div>
<div style="left:1355.75px;top:755.16px;width:1.38px;height:54.46px;background:#dce0e5;"></div>
<div style="left:1408.72px;top:755.16px;width:1.38px;height:54.46px;background:#dce0e5;"></div>
<div style="left:1461.70px;top:755.16px;width:1.38px;height:54.46px;background:#dce0e5;"></div>
<div style="left:1514.67px;top:755.16px;width:1.38px;height:54.46px;background:#dce0e5;"></div>
<div style="left:1567.65px;top:755.16px;width:1.38px;height:54.46px;background:#dce0e5;"></div>
<div style="left:1620.62px;top:755.16px;width:1.38px;height:54.46px;background:#dce0e5;"></div>
<div style="left:1673.60px;top:755.16px;width:1.38px;height:54.46px;background:#dce0e5;"></div>
<div style="left:1726.58px;top:755.16px;width:1.38px;height:54.46px;background:#dce0e5;"></div>
<div style="left:1779.55px;top:755.16px;width:1.38px;height:54.46px;background:#dce0e5;"></div>
<div style="left:1832.53px;top:755.16px;width:1.38px;height:54.46px;background:#dce0e5;"></div>
<div style="left:1885.50px;top:755.16px;width:1.38px;height:54.46px;background:#dce0e5;"></div>
<div style="left:1938.47px;top:755.16px;width:1.38px;height:54.46px;background:#dce0e5;"></div>
<div style="left:1991.45px;top:755.16px;width:1.38px;height:54.46px;background:#dce0e5;"></div>
<div style="left:2044.42px;top:755.16px;width:1.38px;height:54.46px;background:#dce0e5;"></div>
<div style="left:2097.40px;top:755.16px;width:1.38px;height:54.46px;background:#dce0e5;"></div>
<div style="left:2150.38px;top:755.16px;width:1.38px;height:54.46px;background:#dce0e5;"></div>
<div style="left:2203.35px;top:755.16px;width:1.38px;height:54.46px;background:#dce0e5;"></div>
<div style="left:2256.32px;top:755.16px;width:1.38px;height:54.46px;background:#dce0e5;"></div>
<div style="left:2309.30px;top:755.16px;width:1.38px;height:54.46px;background:#dce0e5;"></div>
<div style="left:2362.28px;top:755.16px;width:1.38px;height:54.46px;background:#dce0e5;"></div>
<div style="left:2415.25px;top:755.16px;width:1.38px;height:54.46px;background:#dce0e5;"></div>
<div style="left:2468.22px;top:755.16px;width:1.38px;height:54.46px;background:#dce0e5;"></div>
<div style="left:2521.20px;top:755.16px;width:1.38px;height:54.46px;background:#dce0e5;"></div>
<div style="left:2574.18px;top:755.16px;width:1.38px;height:54.46px;background:#dce0e5;"></div>
<div style="left:30.00px;top:808.88px;width:2530.00px;height:1.38px;background:#dce0e5;"></div>
<span id="t94" class="t" style="left:31.25px;top:772.24px;font-size:17.75px;line-height:21.30px;font-weight:400;color:#212529;transform:scaleX(0.8961);transform-origin:left;-webkit-text-stroke:0.30px #212529;">P240013.01: Grondwerk Liander Hollands Kroon - Uitvoering</span>
<span id="t95" class="t" style="left:574.75px;top:772.24px;font-size:17.75px;line-height:21.30px;font-weight:400;color:#212529;transform:scaleX(0.8898);transform-origin:left;-webkit-text-stroke:0.30px #212529;">Liander</span>
<span id="t96" class="t" style="left:838.75px;top:772.24px;font-size:17.75px;line-height:21.30px;font-weight:400;color:#212529;transform:scaleX(0.8724);transform-origin:left;-webkit-text-stroke:0.30px #212529;">Klaas Vaags</span>
<div style="left:2469.22px;top:765.66px;width:158.18px;height:32.00px;background:#00ffff;"></div>
<div class="grp" style="left:30.00px;top:809.62px;width:2530.00px;height:54.46px;background:#dee2e6;"></div>
<div style="left:30.50px;top:826.38px;width:17.75px;height:14.25px;"><svg viewBox="0 0 640 512" width="100%" height="100%"><path fill="#000" d="M624 352h-16V243.9c0-12.7-5.1-24.9-14.100-33.900L494 110.100c-9-9-21.200-14.100-33.900-14.100H416V48c0-26.500-21.500-48-48-48H48C21.500 0 0 21.500 0 48v320c0 26.500 21.500 48 48 48h16c0 53 43 96 96 96s96-43 96-96h128c0 53 43 96 96 96s96-43 96-96h48c8.800 0 16-7.200 16-16v-32c0-8.800-7.200-16-16-16zM160 464c-26.500 0-48-21.500-48-48s21.500-48 48-48 48 21.500 48 48-21.500 48-48 48zm320 0c-26.500 0-48-21.500-48-48s21.500-48 48-48 48 21.500 48 48-21.500 48-48 48zm80-208H416V144h44.100l99.900 99.900V256z"/></svg></div>
<span id="t97" class="t" style="left:57.25px;top:827.52px;font-size:16.75px;line-height:20.10px;font-weight:700;color:#15181b;transform:scaleX(0.9991);transform-origin:left;-webkit-text-stroke:0.25px #15181b;">NK115: Caterpillar 349E- Kees Vaags</span>
<div style="left:30.00px;top:864.09px;width:530.00px;height:54.46px;background:#f8f9fa;"></div>
<div style="left:1620.62px;top:864.09px;width:105.95px;height:54.46px;background:#eef0f3;"></div>
<div style="left:1991.45px;top:864.09px;width:105.95px;height:54.46px;background:#eef0f3;"></div>
<div style="left:2362.28px;top:864.09px;width:105.95px;height:54.46px;background:#eef0f3;"></div>
<div style="left:1355.75px;top:864.09px;width:1.38px;height:54.46px;background:#dce0e5;"></div>
<div style="left:1408.72px;top:864.09px;width:1.38px;height:54.46px;background:#dce0e5;"></div>
<div style="left:1461.70px;top:864.09px;width:1.38px;height:54.46px;background:#dce0e5;"></div>
<div style="left:1514.67px;top:864.09px;width:1.38px;height:54.46px;background:#dce0e5;"></div>
<div style="left:1567.65px;top:864.09px;width:1.38px;height:54.46px;background:#dce0e5;"></div>
<div style="left:1620.62px;top:864.09px;width:1.38px;height:54.46px;background:#dce0e5;"></div>
<div style="left:1673.60px;top:864.09px;width:1.38px;height:54.46px;background:#dce0e5;"></div>
<div style="left:1726.58px;top:864.09px;width:1.38px;height:54.46px;background:#dce0e5;"></div>
<div style="left:1779.55px;top:864.09px;width:1.38px;height:54.46px;background:#dce0e5;"></div>
<div style="left:1832.53px;top:864.09px;width:1.38px;height:54.46px;background:#dce0e5;"></div>
<div style="left:1885.50px;top:864.09px;width:1.38px;height:54.46px;background:#dce0e5;"></div>
<div style="left:1938.47px;top:864.09px;width:1.38px;height:54.46px;background:#dce0e5;"></div>
<div style="left:1991.45px;top:864.09px;width:1.38px;height:54.46px;background:#dce0e5;"></div>
<div style="left:2044.42px;top:864.09px;width:1.38px;height:54.46px;background:#dce0e5;"></div>
<div style="left:2097.40px;top:864.09px;width:1.38px;height:54.46px;background:#dce0e5;"></div>
<div style="left:2150.38px;top:864.09px;width:1.38px;height:54.46px;background:#dce0e5;"></div>
<div style="left:2203.35px;top:864.09px;width:1.38px;height:54.46px;background:#dce0e5;"></div>
<div style="left:2256.32px;top:864.09px;width:1.38px;height:54.46px;background:#dce0e5;"></div>
<div style="left:2309.30px;top:864.09px;width:1.38px;height:54.46px;background:#dce0e5;"></div>
<div style="left:2362.28px;top:864.09px;width:1.38px;height:54.46px;background:#dce0e5;"></div>
<div style="left:2415.25px;top:864.09px;width:1.38px;height:54.46px;background:#dce0e5;"></div>
<div style="left:2468.22px;top:864.09px;width:1.38px;height:54.46px;background:#dce0e5;"></div>
<div style="left:2521.20px;top:864.09px;width:1.38px;height:54.46px;background:#dce0e5;"></div>
<div style="left:2574.18px;top:864.09px;width:1.38px;height:54.46px;background:#dce0e5;"></div>
<div style="left:30.00px;top:917.80px;width:2530.00px;height:1.38px;background:#dce0e5;"></div>
<span id="t98" class="t" style="left:31.25px;top:881.16px;font-size:17.75px;line-height:21.30px;font-weight:400;color:#212529;transform:scaleX(0.9012);transform-origin:left;-webkit-text-stroke:0.30px #212529;">2024-001.1: Herinchting Boulevard - Voorbereiding</span>
<span id="t99" class="t" style="left:574.75px;top:881.16px;font-size:17.75px;line-height:21.30px;font-weight:400;color:#212529;transform:scaleX(0.8898);transform-origin:left;-webkit-text-stroke:0.30px #212529;">Gemeente Alkmaar</span>
<span id="t100" class="t" style="left:838.75px;top:881.16px;font-size:17.75px;line-height:21.30px;font-weight:400;color:#212529;transform:scaleX(0.9080);transform-origin:left;-webkit-text-stroke:0.30px #212529;">Aron Tingstra</span>
<div style="left:1727.57px;top:874.59px;width:52.23px;height:32.00px;background:#000000;"></div>
<div style="left:30.00px;top:918.55px;width:530.00px;height:54.46px;background:#f8f9fa;"></div>
<div style="left:1620.62px;top:918.55px;width:105.95px;height:54.46px;background:#eef0f3;"></div>
<div style="left:1991.45px;top:918.55px;width:105.95px;height:54.46px;background:#eef0f3;"></div>
<div style="left:2362.28px;top:918.55px;width:105.95px;height:54.46px;background:#eef0f3;"></div>
<div style="left:1355.75px;top:918.55px;width:1.38px;height:54.46px;background:#dce0e5;"></div>
<div style="left:1408.72px;top:918.55px;width:1.38px;height:54.46px;background:#dce0e5;"></div>
<div style="left:1461.70px;top:918.55px;width:1.38px;height:54.46px;background:#dce0e5;"></div>
<div style="left:1514.67px;top:918.55px;width:1.38px;height:54.46px;background:#dce0e5;"></div>
<div style="left:1567.65px;top:918.55px;width:1.38px;height:54.46px;background:#dce0e5;"></div>
<div style="left:1620.62px;top:918.55px;width:1.38px;height:54.46px;background:#dce0e5;"></div>
<div style="left:1673.60px;top:918.55px;width:1.38px;height:54.46px;background:#dce0e5;"></div>
<div style="left:1726.58px;top:918.55px;width:1.38px;height:54.46px;background:#dce0e5;"></div>
<div style="left:1779.55px;top:918.55px;width:1.38px;height:54.46px;background:#dce0e5;"></div>
<div style="left:1832.53px;top:918.55px;width:1.38px;height:54.46px;background:#dce0e5;"></div>
<div style="left:1885.50px;top:918.55px;width:1.38px;height:54.46px;background:#dce0e5;"></div>
<div style="left:1938.47px;top:918.55px;width:1.38px;height:54.46px;background:#dce0e5;"></div>
<div style="left:1991.45px;top:918.55px;width:1.38px;height:54.46px;background:#dce0e5;"></div>
<div style="left:2044.42px;top:918.55px;width:1.38px;height:54.46px;background:#dce0e5;"></div>
<div style="left:2097.40px;top:918.55px;width:1.38px;height:54.46px;background:#dce0e5;"></div>
<div style="left:2150.38px;top:918.55px;width:1.38px;height:54.46px;background:#dce0e5;"></div>
<div style="left:2203.35px;top:918.55px;width:1.38px;height:54.46px;background:#dce0e5;"></div>
<div style="left:2256.32px;top:918.55px;width:1.38px;height:54.46px;background:#dce0e5;"></div>
<div style="left:2309.30px;top:918.55px;width:1.38px;height:54.46px;background:#dce0e5;"></div>
<div style="left:2362.28px;top:918.55px;width:1.38px;height:54.46px;background:#dce0e5;"></div>
<div style="left:2415.25px;top:918.55px;width:1.38px;height:54.46px;background:#dce0e5;"></div>
<div style="left:2468.22px;top:918.55px;width:1.38px;height:54.46px;background:#dce0e5;"></div>
<div style="left:2521.20px;top:918.55px;width:1.38px;height:54.46px;background:#dce0e5;"></div>
<div style="left:2574.18px;top:918.55px;width:1.38px;height:54.46px;background:#dce0e5;"></div>
<div style="left:30.00px;top:972.26px;width:2530.00px;height:1.38px;background:#dce0e5;"></div>
<span id="t101" class="t" style="left:31.25px;top:935.62px;font-size:17.75px;line-height:21.30px;font-weight:400;color:#212529;transform:scaleX(0.9016);transform-origin:left;-webkit-text-stroke:0.30px #212529;">W.00075: Herinchting Boulevard - Testen Inhuur case WI</span>
<span id="t102" class="t" style="left:574.75px;top:935.62px;font-size:17.75px;line-height:21.30px;font-weight:400;color:#212529;transform:scaleX(0.8898);transform-origin:left;-webkit-text-stroke:0.30px #212529;">Gemeente Alkmaar</span>
<span id="t103" class="t" style="left:838.75px;top:935.62px;font-size:17.75px;line-height:21.30px;font-weight:400;color:#212529;transform:scaleX(0.9080);transform-origin:left;-webkit-text-stroke:0.30px #212529;">Aron Tingstra</span>
<div style="left:1780.55px;top:929.05px;width:52.23px;height:32.00px;background:#000000;"></div>
<div class="grp" style="left:30.00px;top:973.01px;width:2530.00px;height:54.46px;background:#dee2e6;"></div>
<div style="left:30.50px;top:989.76px;width:17.75px;height:14.25px;"><svg viewBox="0 0 640 512" width="100%" height="100%"><path fill="#000" d="M624 352h-16V243.9c0-12.7-5.1-24.9-14.100-33.900L494 110.100c-9-9-21.200-14.100-33.900-14.100H416V48c0-26.500-21.500-48-48-48H48C21.500 0 0 21.500 0 48v320c0 26.500 21.500 48 48 48h16c0 53 43 96 96 96s96-43 96-96h128c0 53 43 96 96 96s96-43 96-96h48c8.800 0 16-7.200 16-16v-32c0-8.800-7.200-16-16-16zM160 464c-26.500 0-48-21.500-48-48s21.500-48 48-48 48 21.500 48 48-21.500 48-48 48zm320 0c-26.500 0-48-21.500-48-48s21.500-48 48-48 48 21.500 48 48-21.500 48-48 48zm80-208H416V144h44.100l99.900 99.900V256z"/></svg></div>
<span id="t104" class="t" style="left:57.25px;top:990.91px;font-size:16.75px;line-height:20.10px;font-weight:700;color:#15181b;transform:scaleX(0.9892);transform-origin:left;-webkit-text-stroke:0.25px #15181b;">NK112: Caterpillar 323- Erik Bus</span>
<div style="left:30.00px;top:1027.47px;width:530.00px;height:54.46px;background:#f8f9fa;"></div>
<div style="left:1620.62px;top:1027.47px;width:105.95px;height:54.46px;background:#eef0f3;"></div>
<div style="left:1991.45px;top:1027.47px;width:105.95px;height:54.46px;background:#eef0f3;"></div>
<div style="left:2362.28px;top:1027.47px;width:105.95px;height:54.46px;background:#eef0f3;"></div>
<div style="left:1355.75px;top:1027.47px;width:1.38px;height:54.46px;background:#dce0e5;"></div>
<div style="left:1408.72px;top:1027.47px;width:1.38px;height:54.46px;background:#dce0e5;"></div>
<div style="left:1461.70px;top:1027.47px;width:1.38px;height:54.46px;background:#dce0e5;"></div>
<div style="left:1514.67px;top:1027.47px;width:1.38px;height:54.46px;background:#dce0e5;"></div>
<div style="left:1567.65px;top:1027.47px;width:1.38px;height:54.46px;background:#dce0e5;"></div>
<div style="left:1620.62px;top:1027.47px;width:1.38px;height:54.46px;background:#dce0e5;"></div>
<div style="left:1673.60px;top:1027.47px;width:1.38px;height:54.46px;background:#dce0e5;"></div>
<div style="left:1726.58px;top:1027.47px;width:1.38px;height:54.46px;background:#dce0e5;"></div>
<div style="left:1779.55px;top:1027.47px;width:1.38px;height:54.46px;background:#dce0e5;"></div>
<div style="left:1832.53px;top:1027.47px;width:1.38px;height:54.46px;background:#dce0e5;"></div>
<div style="left:1885.50px;top:1027.47px;width:1.38px;height:54.46px;background:#dce0e5;"></div>
<div style="left:1938.47px;top:1027.47px;width:1.38px;height:54.46px;background:#dce0e5;"></div>
<div style="left:1991.45px;top:1027.47px;width:1.38px;height:54.46px;background:#dce0e5;"></div>
<div style="left:2044.42px;top:1027.47px;width:1.38px;height:54.46px;background:#dce0e5;"></div>
<div style="left:2097.40px;top:1027.47px;width:1.38px;height:54.46px;background:#dce0e5;"></div>
<div style="left:2150.38px;top:1027.47px;width:1.38px;height:54.46px;background:#dce0e5;"></div>
<div style="left:2203.35px;top:1027.47px;width:1.38px;height:54.46px;background:#dce0e5;"></div>
<div style="left:2256.32px;top:1027.47px;width:1.38px;height:54.46px;background:#dce0e5;"></div>
<div style="left:2309.30px;top:1027.47px;width:1.38px;height:54.46px;background:#dce0e5;"></div>
<div style="left:2362.28px;top:1027.47px;width:1.38px;height:54.46px;background:#dce0e5;"></div>
<div style="left:2415.25px;top:1027.47px;width:1.38px;height:54.46px;background:#dce0e5;"></div>
<div style="left:2468.22px;top:1027.47px;width:1.38px;height:54.46px;background:#dce0e5;"></div>
<div style="left:2521.20px;top:1027.47px;width:1.38px;height:54.46px;background:#dce0e5;"></div>
<div style="left:2574.18px;top:1027.47px;width:1.38px;height:54.46px;background:#dce0e5;"></div>
<div style="left:30.00px;top:1081.19px;width:2530.00px;height:1.38px;background:#dce0e5;"></div>
<span id="t105" class="t" style="left:31.25px;top:1044.55px;font-size:17.75px;line-height:21.30px;font-weight:400;color:#212529;transform:scaleX(0.8961);transform-origin:left;-webkit-text-stroke:0.30px #212529;">P240013.01: Grondwerk Liander Hollands Kroon - Uitvoering</span>
<span id="t106" class="t" style="left:574.75px;top:1044.55px;font-size:17.75px;line-height:21.30px;font-weight:400;color:#212529;transform:scaleX(0.8898);transform-origin:left;-webkit-text-stroke:0.30px #212529;">Liander</span>
<span id="t107" class="t" style="left:838.75px;top:1044.55px;font-size:17.75px;line-height:21.30px;font-weight:400;color:#212529;transform:scaleX(0.8724);transform-origin:left;-webkit-text-stroke:0.30px #212529;">Klaas Vaags</span>
<div style="left:1356.75px;top:1037.97px;width:264.12px;height:32.00px;background:#00ffff;"></div>
<div class="grp" style="left:30.00px;top:1081.94px;width:2530.00px;height:54.46px;background:#dee2e6;"></div>
<div style="left:30.50px;top:1098.69px;width:17.75px;height:14.25px;"><svg viewBox="0 0 640 512" width="100%" height="100%"><path fill="#000" d="M624 352h-16V243.9c0-12.7-5.1-24.9-14.100-33.900L494 110.100c-9-9-21.200-14.100-33.900-14.100H416V48c0-26.500-21.500-48-48-48H48C21.500 0 0 21.500 0 48v320c0 26.500 21.500 48 48 48h16c0 53 43 96 96 96s96-43 96-96h128c0 53 43 96 96 96s96-43 96-96h48c8.800 0 16-7.200 16-16v-32c0-8.800-7.200-16-16-16zM160 464c-26.500 0-48-21.500-48-48s21.500-48 48-48 48 21.500 48 48-21.500 48-48 48zm320 0c-26.500 0-48-21.500-48-48s21.500-48 48-48 48 21.500 48 48-21.500 48-48 48zm80-208H416V144h44.100l99.900 99.900V256z"/></svg></div>
<span id="t108" class="t" style="left:57.25px;top:1099.83px;font-size:16.75px;line-height:20.10px;font-weight:700;color:#15181b;transform:scaleX(1.0309);transform-origin:left;-webkit-text-stroke:0.25px #15181b;">MK001: Hitachi ZX190W-3- Bram de Machinist</span>
</div>
</body>
</html>
